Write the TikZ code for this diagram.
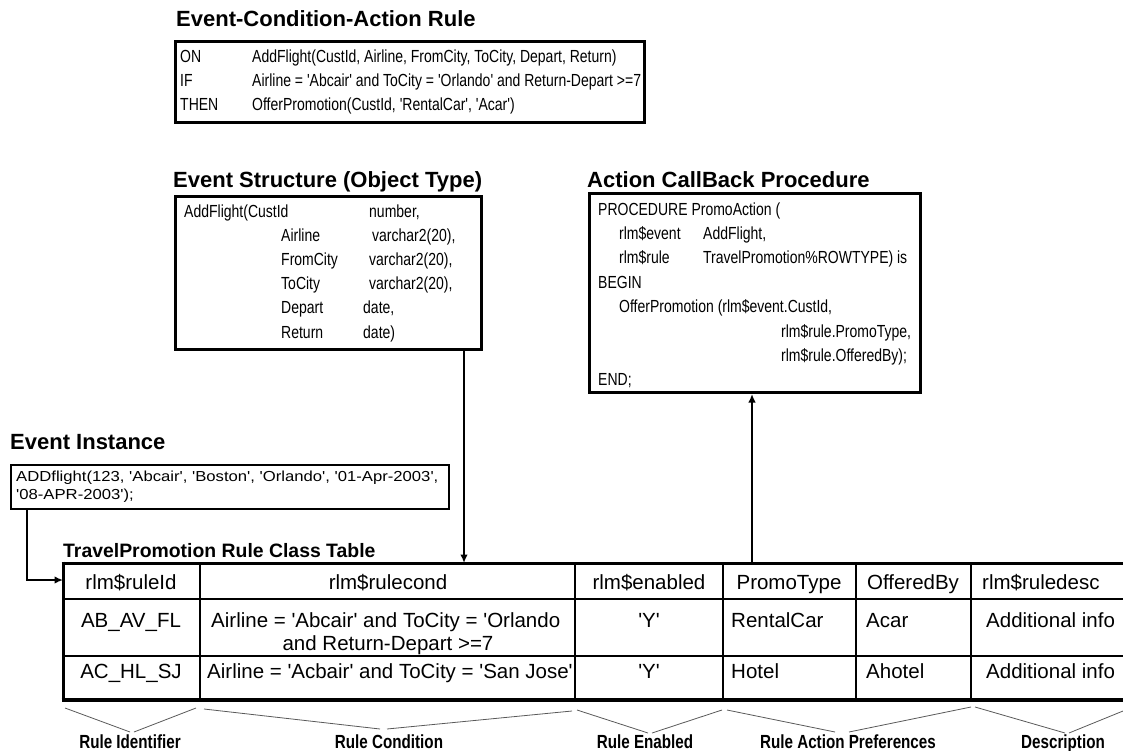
\documentclass[tikz,border=0pt]{standalone}
\usepackage{fontspec}
\setmainfont{Liberation Sans}
\newfontfamily\codesans{Liberation Sans}[FakeStretch=0.8]
\newfontfamily\narrowsans{Liberation Sans}[FakeStretch=0.8]
\newfontfamily\widesans{Liberation Sans}[FakeStretch=1.15]
\newfontfamily\cellsans{Liberation Sans}
\usetikzlibrary{arrows.meta,positioning}
\tikzstyle{codebox} = [draw, line width=3pt, rectangle, inner sep=0pt, anchor=north west]
\tikzstyle{boxtitle} = [font=\fontsize{22}{24}\selectfont\bfseries, anchor=base west, inner sep=0pt]
\tikzstyle{codetext} = [font=\codesans\fontsize{17.5}{24}\selectfont, anchor=base west, inner sep=0pt]
\tikzstyle{celltext} = [font=\cellsans\fontsize{20.5}{23}\selectfont, anchor=base, inner sep=0pt]
\tikzstyle{cellleft} = [celltext, anchor=base west]
\tikzstyle{flow} = [line width=1.6pt, -{Latex[length=8.5pt,width=7.5pt]}]
\tikzstyle{brace} = [line width=0.8pt, black!65]
\tikzstyle{bracelabel} = [font=\narrowsans\fontsize{19}{20}\selectfont\bfseries, anchor=base, inner sep=0pt]
\begin{document}
\begin{tikzpicture}[x=1pt,y=-1pt]
\useasboundingbox (0,0) rectangle (1123,751);

% ECA rule
\node[codebox, minimum width=469pt, minimum height=81pt] (eca) at (174,40) {};
\node[boxtitle] (ecatitle) at (176,27) {Event-Condition-Action Rule};
\node[codetext] (ecarule) at (180,63) {\begin{tabular}[t]{@{}p{72pt}@{}l@{}}
ON & AddFlight(CustId, Airline, FromCity, ToCity, Depart, Return)\\
IF & Airline = 'Abcair' and ToCity = 'Orlando' and Return-Depart >=7\\
THEN & OfferPromotion(CustId, 'RentalCar', 'Acar')
\end{tabular}};

% event structure
\node[codebox, minimum width=306pt, minimum height=153pt] (evstruct) at (174,195) {};
\node[boxtitle] (structtitle) at (173,188) {Event Structure (Object Type)};
\node[codetext] (structtype) at (184,218) {\begin{tabular}[t]{@{}p{97pt}@{}p{88pt}@{}l@{}}
\multicolumn{2}{@{}p{185pt}@{}}{AddFlight(CustId} & number,\\
& Airline & \hspace{3pt}varchar2(20),\\
& FromCity & varchar2(20),\\
& ToCity & varchar2(20),\\
& Depart & \hspace{-6pt}date,\\
& Return & \hspace{-6pt}date)
\end{tabular}};

% action callback
\node[codebox, minimum width=331pt, minimum height=199pt] (action) at (588,192) {};
\node[boxtitle] (actiontitle) at (587,188) {Action CallBack Procedure};
\node[codetext, font=\codesans\fontsize{17.5}{24.4}\selectfont] (proc) at (598,215) {\begin{tabular}[t]{@{}p{21pt}@{}p{84pt}@{}l@{}}
\multicolumn{3}{@{}l@{}}{PROCEDURE PromoAction (}\\
& rlm\$event & AddFlight,\\
& rlm\$rule & TravelPromotion\%ROWTYPE) is\\
\multicolumn{3}{@{}l@{}}{BEGIN}\\
& \multicolumn{2}{@{}l@{}}{OfferPromotion (rlm\$event.CustId,}\\
& & \hspace{78pt}rlm\$rule.PromoType,\\
& & \hspace{78pt}rlm\$rule.OfferedBy);\\
\multicolumn{3}{@{}l@{}}{END;}
\end{tabular}};

% event instance
\node[codebox, line width=1.5pt, minimum width=438pt, minimum height=44pt] (evinst) at (10,464) {};
\node[boxtitle] (insttitle) at (10,449) {Event Instance};
\node[codetext, font=\widesans\fontsize{14.5}{18}\selectfont] (evcall) at (16,481) {\begin{tabular}[t]{@{}l@{}}
ADDflight(123, 'Abcair', 'Boston', 'Orlando', '01-Apr-2003',\\
'08-APR-2003');
\end{tabular}};

% rule class table
\node[boxtitle, font=\fontsize{19.4}{22}\selectfont\bfseries] (tbltitle) at (63,557) {TravelPromotion Rule Class Table};
\draw[line width=3pt] (63,561.5) -- (63,701.5);
\draw[line width=3pt] (61.5,563) -- (1123,563);
\draw[line width=2pt] (63,599) -- (1123,599) (63,656) -- (1123,656);
\draw[line width=3.5pt] (61.5,700) -- (1123,700);
\foreach \x in {200,575,723,856,971}
  \draw[line width=2pt] (\x,563) -- (\x,700);
\coordinate (tablein) at (63,580);
\coordinate (condin) at (464,563);
\coordinate (actout) at (752,563);

\node[celltext] (hdrid) at (131,589) {rlm\$ruleId};
\node[celltext] (hdrcond) at (388,589) {rlm\$rulecond};
\node[celltext] (hdren) at (649,589) {rlm\$enabled};
\node[celltext] (hdrtype) at (789,589) {PromoType};
\node[celltext] (hdrby) at (913,589) {OfferedBy};
\node[cellleft] (hdrdesc) at (982,589) {rlm\$ruledesc};

\node[celltext] (rowaid) at (131,627) {AB\_AV\_FL};
\node[cellleft] (rowacond) at (211,627) {Airline = 'Abcair' and ToCity = 'Orlando};
\node[celltext] (rowacondb) at (388,650) {and Return-Depart >=7};
\node[celltext] (rowaen) at (649,627) {'Y'};
\node[cellleft] (rowatype) at (731,627) {RentalCar};
\node[cellleft] (rowaby) at (866,627) {Acar};
\node[cellleft] (rowadesc) at (986,627) {Additional info};

\node[celltext] (rowbid) at (131,678) {AC\_HL\_SJ};
\node[cellleft] (rowbcond) at (207,678) {Airline = 'Acbair' and ToCity = 'San Jose'};
\node[celltext] (rowben) at (649,678) {'Y'};
\node[cellleft] (rowbtype) at (731,678) {Hotel};
\node[cellleft] (rowbby) at (866,678) {Ahotel};
\node[cellleft] (rowbdesc) at (986,678) {Additional info};

% arrows
\draw[flow] (evstruct.south -| condin) -- (condin);
\draw[flow] (actout) -- (action.south -| actout);
\draw[flow] ([xshift=17pt]evinst.south west) |- (tablein);

% column groups
\draw[brace] (65,708) -- (130,732) (134,732) -- (196,708);
\draw[brace] (204,709) -- (380,729) (387,729) -- (572,711);
\draw[brace] (577,710) -- (648,733) (652,733) -- (722,710);
\draw[brace] (727,710) -- (835,732) (849,732) -- (971,707);
\draw[brace] (975,707) -- (1065,733) (1069,733) -- (1123,711);
\node[bracelabel] (lblid) at (130,748) {Rule Identifier};
\node[bracelabel] (lblcond) at (389,748) {Rule Condition};
\node[bracelabel] (lblen) at (645,748) {Rule Enabled};
\node[bracelabel] (lblpref) at (848,748) {Rule Action Preferences};
\node[bracelabel] (lbldesc) at (1063,748) {Description};
\end{tikzpicture}
\end{document}
